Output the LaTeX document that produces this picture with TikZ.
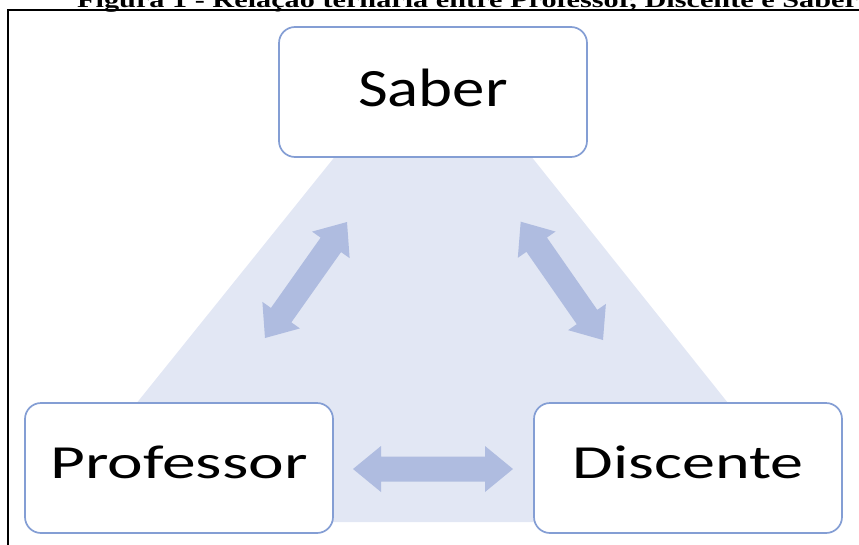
\documentclass[tikz,border=0pt]{standalone}
\usepackage{fontspec}
\setmainfont{Carlito}
\newfontfamily\titulofont{Liberation Serif}
\usetikzlibrary{calc}
\definecolor{fundo}{RGB}{226,231,244}
\definecolor{setacor}{RGB}{175,188,224}
\definecolor{borda}{RGB}{132,158,212}

\newcommand{\setadupla}[2]{%
    \fill[setacor] (#1) -- ($(#1)!28pt!(#2)!23pt!90:(#2)$) -- ($(#1)!28pt!(#2)!12.5pt!90:(#2)$)
        -- ($(#2)!28pt!(#1)!12.5pt!-90:(#1)$) -- ($(#2)!28pt!(#1)!23pt!-90:(#1)$) -- (#2)
        -- ($(#2)!28pt!(#1)!23pt!90:(#1)$) -- ($(#2)!28pt!(#1)!12.5pt!90:(#1)$)
        -- ($(#1)!28pt!(#2)!12.5pt!-90:(#2)$) -- ($(#1)!28pt!(#2)!23pt!-90:(#2)$) -- cycle;}

\begin{document}
\begin{tikzpicture}[x=1pt, y=-1pt,
    caixa/.style={draw=borda, line width=1.7pt, fill=white, rounded corners=16pt,
        minimum width=308pt, minimum height=130pt, inner sep=0pt, text depth=0pt}]
    \useasboundingbox (0,0) rectangle (859,544);
    \node[anchor=base west, inner sep=0pt] (titulo) at (77,7)
        {\scalebox{1.375}[1]{\titulofont\bfseries\fontsize{22}{22}\selectfont Figura 1 - Relação ternária entre Professor, Discente e Saber}};
    \draw[line width=1.5pt] (8,545) -- (8,10) -- (860,10);
    \fill[fundo] (433.5,34) -- (41,522) -- (823,522) -- cycle;
    \node[caixa, text height=29pt] (saber) at (433,92)
        {\scalebox{1.2}[1]{\fontsize{54}{54}\selectfont Saber}};
    \node[caixa, text height=20pt] (professor) at (179,468)
        {\scalebox{1.42}[1]{\fontsize{47.5}{47.5}\selectfont Professor}};
    \node[caixa, text height=20pt] (discente) at (688,468)
        {\scalebox{1.39}[1]{\fontsize{47.5}{47.5}\selectfont Discente}};
    \coordinate (ps1) at (265,338);
    \coordinate (ps2) at (347,222);
    \coordinate (sd1) at (520.7,221.7);
    \coordinate (sd2) at (603,340);
    \coordinate (pd1) at (353,469);
    \coordinate (pd2) at (513,469);
    \setadupla{ps1}{ps2}
    \setadupla{sd1}{sd2}
    \setadupla{pd1}{pd2}
\end{tikzpicture}
\end{document}
